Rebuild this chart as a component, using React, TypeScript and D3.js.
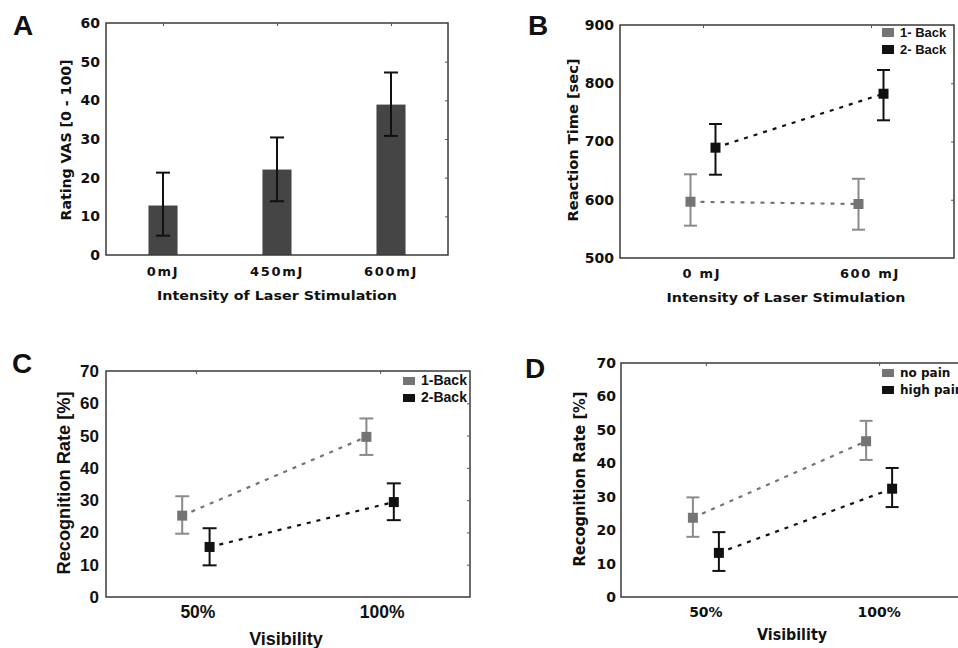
import React, { useEffect, useRef } from 'react';
import * as d3 from 'd3';

// Panel A: pain ratings
const doseA = ['0mJ', '450mJ', '600mJ'];
const ratingMean = [12.8, 22.1, 38.9];
const ratingLow = [5.0, 13.9, 30.8];
const ratingHigh = [21.3, 30.4, 47.2];
const ticksA = [0, 10, 20, 30, 40, 50, 60];

// Panel B: reaction times
const doseB = ['0 mJ', '600 mJ'];
const rtOneBack = [596.6, 592.7];
const rtOneBackLow = [555.5, 548.6];
const rtOneBackHigh = [643.7, 636.0];
const rtTwoBack = [689.4, 782.0];
const rtTwoBackLow = [643.0, 736.4];
const rtTwoBackHigh = [730.0, 822.7];
const ticksB = [500, 600, 700, 800, 900];

// Panel C / D: recognition rate
const visibility = ['50%', '100%'];
const recOneBack = [25.2, 49.6];
const recOneBackLow = [19.6, 44.0];
const recOneBackHigh = [31.2, 55.3];
const recTwoBack = [15.5, 29.4];
const recTwoBackLow = [9.8, 23.8];
const recTwoBackHigh = [21.3, 35.2];
const recNoPain = [23.7, 46.6];
const recNoPainLow = [18.0, 41.0];
const recNoPainHigh = [29.8, 52.7];
const recHighPain = [13.2, 32.4];
const recHighPainLow = [7.8, 26.9];
const recHighPainHigh = [19.4, 38.6];
const ticksCD = [0, 10, 20, 30, 40, 50, 60, 70];

const GRAY = '#747474';
const GRAY_BAR = '#8a8a8a';
const BLACK = '#111';
const DEJAVU = "'DejaVu Sans', sans-serif";
const ARIAL = "'Liberation Sans', Arial, sans-serif";

type Box = { l: number; r: number; t: number; b: number };
type Series = { name: string; color: string; bar: string; mean: number[]; low: number[]; high: number[]; shift: number };

const drawFrame = (g: any, box: Box, x: any, y: any, yTicks: number[]) => {
  g.append('rect')
    .attr('x', box.l).attr('y', box.t)
    .attr('width', box.r - box.l).attr('height', box.b - box.t)
    .attr('fill', 'none').attr('stroke', '#3a3a3a').attr('stroke-width', 1.5);
  // small inward ticks on top and right
  const top = g.append('g').attr('transform', `translate(0,${box.t})`)
    .call(d3.axisBottom(x).tickSize(3).tickFormat(() => ''));
  top.select('.domain').remove();
  top.selectAll('line').attr('stroke', '#555');
  const right = g.append('g').attr('transform', `translate(${box.r},0)`)
    .call(d3.axisLeft(y).tickValues(yTicks.slice(1, -1)).tickSize(3).tickFormat(() => ''));
  right.select('.domain').remove();
  right.selectAll('line').attr('stroke', '#555');
};

const drawYTicks = (g: any, box: Box, y: any, ticks: number[], font: string, size: number, pad: number) => {
  const ax = g.append('g').attr('transform', `translate(${box.l},0)`)
    .call(d3.axisLeft(y).tickValues(ticks).tickSize(0).tickPadding(pad));
  ax.select('.domain').remove();
  ax.selectAll('text')
    .attr('font-family', font).attr('font-size', size).attr('font-weight', 'bold').attr('fill', '#111');
};

const drawText = (g: any, txt: string, x: number, y: number, font: string, size: number, opts: any = {}) => {
  const t = g.append('text')
    .attr('x', x).attr('y', y)
    .attr('font-family', font).attr('font-size', size).attr('font-weight', 'bold')
    .attr('fill', '#111')
    .attr('text-anchor', opts.anchor || 'middle')
    .text(txt);
  if (opts.len) t.attr('textLength', opts.len).attr('lengthAdjust', 'spacingAndGlyphs');
  if (opts.spacing) t.attr('letter-spacing', opts.spacing);
  if (opts.rotate) t.attr('transform', `rotate(-90,${x},${y})`);
  return t;
};

const drawSeries = (g: any, x: any, y: any, cats: string[], series: Series[], cap: number, marker: number) => {
  series.forEach((s) => {
    const pts = cats.map((c, i) => [x(c) + s.shift, y(s.mean[i])] as [number, number]);
    g.append('path')
      .attr('d', d3.line()(pts))
      .attr('fill', 'none').attr('stroke', s.color)
      .attr('stroke-width', 2.2).attr('stroke-dasharray', '4,6');
  });
  series.forEach((s) => {
    cats.forEach((c, i) => {
      const cx = x(c) + s.shift;
      const eg = g.append('g').attr('stroke', s.bar).attr('stroke-width', 2);
      eg.append('line').attr('x1', cx).attr('x2', cx).attr('y1', y(s.low[i])).attr('y2', y(s.high[i]));
      eg.append('line').attr('x1', cx - cap / 2).attr('x2', cx + cap / 2).attr('y1', y(s.low[i])).attr('y2', y(s.low[i]));
      eg.append('line').attr('x1', cx - cap / 2).attr('x2', cx + cap / 2).attr('y1', y(s.high[i])).attr('y2', y(s.high[i]));
      g.append('rect')
        .attr('x', cx - marker / 2).attr('y', y(s.mean[i]) - marker / 2)
        .attr('width', marker).attr('height', marker)
        .attr('fill', s.color);
    });
  });
};

const drawLegend = (g: any, series: Series[], x: number, y: number, gap: number, font: string, size: number, sw: number, sh: number) => {
  series.forEach((s, i) => {
    const yy = y + i * gap;
    g.append('rect').attr('x', x).attr('y', yy - sh).attr('width', sw).attr('height', sh).attr('fill', s.color);
    drawText(g, s.name, x + sw + 6, yy, font, size, { anchor: 'start' });
  });
};

const Figure = () => {
  const ref = useRef<SVGSVGElement | null>(null);

  useEffect(() => {
    const svg = d3.select(ref.current);
    svg.selectAll('*').remove();

    // ---------- A ----------
    const gA = svg.append('g');
    const boxA: Box = { l: 106, r: 448, t: 23, b: 255 };
    const xA = d3.scaleBand().domain(doseA).range([boxA.l, boxA.r]).paddingInner(0.745).paddingOuter(0.3725);
    const yA = d3.scaleLinear().domain([0, 60]).range([boxA.b, boxA.t]);
    gA.selectAll('rect.bar')
      .data(doseA)
      .enter()
      .append('rect')
      .attr('class', 'bar')
      .attr('x', (d) => xA(d) as number)
      .attr('y', (d, i) => yA(ratingMean[i]))
      .attr('width', xA.bandwidth())
      .attr('height', (d, i) => yA(0) - yA(ratingMean[i]))
      .attr('fill', '#454545');
    doseA.forEach((d, i) => {
      const cx = (xA(d) as number) + xA.bandwidth() / 2;
      const eg = gA.append('g').attr('stroke', BLACK).attr('stroke-width', 2);
      eg.append('line').attr('x1', cx).attr('x2', cx).attr('y1', yA(ratingLow[i])).attr('y2', yA(ratingHigh[i]));
      [ratingLow[i], ratingHigh[i]].forEach((v) => {
        eg.append('line').attr('x1', cx - 7).attr('x2', cx + 7).attr('y1', yA(v)).attr('y2', yA(v));
      });
      drawText(gA, d, cx, 276, DEJAVU, 13, { spacing: 1.7 });
    });
    const xAc = d3.scalePoint().domain(doseA).range([boxA.l, boxA.r]).padding(0.5);
    drawFrame(gA, boxA, xAc, yA, ticksA);
    drawYTicks(gA, boxA, yA, ticksA, DEJAVU, 14, 6);
    drawText(gA, 'Intensity of Laser Stimulation', 277, 300, DEJAVU, 13, { len: 240 });
    drawText(gA, 'Rating VAS [0 - 100]', 71, 140, DEJAVU, 14, { rotate: true, len: 161 });
    drawText(gA, 'A', 23, 35, ARIAL, 28);

    // ---------- B ----------
    const gB = svg.append('g');
    const boxB: Box = { l: 620, r: 954, t: 25, b: 258 };
    const xB = d3.scalePoint().domain(doseB).range([boxB.l, boxB.r]).padding(0.494);
    const yB = d3.scaleLinear().domain([500, 900]).range([boxB.b, boxB.t]);
    const seriesB: Series[] = [
      { name: '1- Back', color: GRAY, bar: GRAY_BAR, mean: rtOneBack, low: rtOneBackLow, high: rtOneBackHigh, shift: -12.5 },
      { name: '2- Back', color: BLACK, bar: BLACK, mean: rtTwoBack, low: rtTwoBackLow, high: rtTwoBackHigh, shift: 12.5 },
    ];
    drawFrame(gB, boxB, xB, yB, ticksB);
    drawSeries(gB, xB, yB, doseB, seriesB, 13, 10);
    drawYTicks(gB, boxB, yB, ticksB, DEJAVU, 14, 6);
    doseB.forEach((d) => drawText(gB, d, (xB(d) as number) - 1, 278, DEJAVU, 13, { spacing: 1.7 }));
    drawText(gB, 'Intensity of Laser Stimulation', 786, 302, DEJAVU, 13, { len: 239 });
    drawText(gB, 'Reaction Time [sec]', 578, 140, DEJAVU, 14, { rotate: true, len: 163 });
    drawLegend(gB, seriesB, 882, 37, 17, ARIAL, 13, 12, 9);
    drawText(gB, 'B', 538, 35, ARIAL, 28);

    // ---------- C ----------
    const gC = svg.append('g');
    const boxC: Box = { l: 106, r: 470, t: 371, b: 597 };
    const xC = d3.scalePoint().domain(visibility).range([boxC.l, boxC.r]).padding(0.488);
    const yC = d3.scaleLinear().domain([0, 70]).range([boxC.b, boxC.t]);
    const seriesC: Series[] = [
      { name: '1-Back', color: GRAY, bar: GRAY_BAR, mean: recOneBack, low: recOneBackLow, high: recOneBackHigh, shift: -13.7 },
      { name: '2-Back', color: BLACK, bar: BLACK, mean: recTwoBack, low: recTwoBackLow, high: recTwoBackHigh, shift: 13.7 },
    ];
    drawFrame(gC, boxC, xC, yC, ticksCD);
    drawSeries(gC, xC, yC, visibility, seriesC, 14, 10);
    drawYTicks(gC, boxC, yC, ticksCD, ARIAL, 17, 7);
    visibility.forEach((d) => drawText(gC, d, (xC(d) as number) + 2, 618, ARIAL, 17.5));
    drawText(gC, 'Visibility', 286, 645, ARIAL, 18);
    drawText(gC, 'Recognition Rate [%]', 70, 483, ARIAL, 18, { rotate: true, len: 183 });
    drawLegend(gC, seriesC, 403, 385, 17, ARIAL, 14, 12, 8);
    drawText(gC, 'C', 22, 373, ARIAL, 28);

    // ---------- D ----------
    const gD = svg.append('g');
    const boxD: Box = { l: 621, r: 964, t: 363, b: 597 };
    const xD = d3.scalePoint().domain(visibility).range([boxD.l, boxD.r]).padding(0.49);
    const yD = d3.scaleLinear().domain([0, 70]).range([boxD.b, boxD.t]);
    const seriesD: Series[] = [
      { name: 'no pain', color: GRAY, bar: GRAY_BAR, mean: recNoPain, low: recNoPainLow, high: recNoPainHigh, shift: -13 },
      { name: 'high pain', color: BLACK, bar: BLACK, mean: recHighPain, low: recHighPainLow, high: recHighPainHigh, shift: 13 },
    ];
    drawFrame(gD, boxD, xD, yD, ticksCD);
    drawSeries(gD, xD, yD, visibility, seriesD, 13, 10);
    drawYTicks(gD, boxD, yD, ticksCD, DEJAVU, 14, 5);
    visibility.forEach((d) => drawText(gD, d, xD(d) as number, 617, DEJAVU, 14));
    drawText(gD, 'Visibility', 792, 640, DEJAVU, 15, { len: 70 });
    drawText(gD, 'Recognition Rate [%]', 585, 479, DEJAVU, 15, { rotate: true, len: 175 });
    drawLegend(gD, seriesD, 882, 377, 17, DEJAVU, 12, 12, 8);
    drawText(gD, 'D', 535, 378, ARIAL, 28);
  }, []);

  return (
    <svg
      ref={ref}
      width={958}
      height={648}
      style={{ position: 'absolute', left: 0, top: 0, background: '#fff' }}
    />
  );
};

export default function App() {
  return <Figure />;
}
